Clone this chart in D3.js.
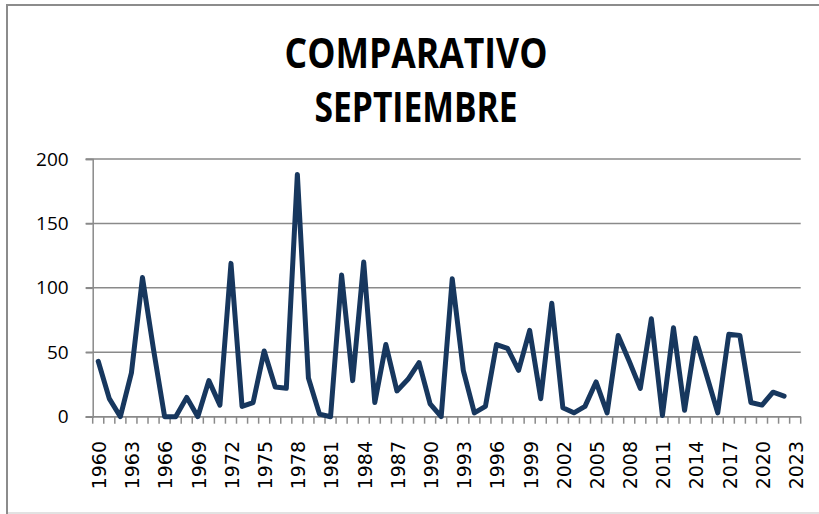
<!DOCTYPE html>
<html>
<head>
<meta charset="utf-8">
<script src="https://cdn.jsdelivr.net/npm/d3@7"></script>
<style>
  html, body { margin: 0; padding: 0; background: #fff; }
  svg { display: block; }
</style>
</head>
<body>
<svg id="chart" width="819" height="514"></svg>
<script>
const titleLines = ["COMPARATIVO", "SEPTIEMBRE"];
const years = [
  1960,1961,1962,1963,1964,1965,1966,1967,1968,1969,
  1970,1971,1972,1973,1974,1975,1976,1977,1978,1979,
  1980,1981,1982,1983,1984,1985,1986,1987,1988,1989,
  1990,1991,1992,1993,1994,1995,1996,1997,1998,1999,
  2000,2001,2002,2003,2004,2005,2006,2007,2008,2009,
  2010,2011,2012,2013,2014,2015,2016,2017,2018,2019,
  2020,2021,2022,2023
];
const values = [
  43,14,0,34,108,52,0,0,15,0,
  28,9,119,8,11,51,23,22,188,30,
  2,0,110,28,120,11,56,20,29,42,
  10,0,107,36,3,8,56,53,36,67,
  14,88,7,3,8,27,3,63,43,22,
  76,1,69,5,61,32,3,64,63,11,
  9,19,16,null
];
const yTicks = [0, 50, 100, 150, 200];
const xLabelYears = years.filter((yr, i) => i % 3 === 0);

const svg = d3.select("#chart");
const plotLeft = 92.7, plotRight = 800.7, plotTop = 159, plotBottom = 416.7;
const gridColor = "#8a8a8a";

// frame
svg.append("line").attr("x1", 7).attr("x2", 7).attr("y1", 4).attr("y2", 514)
  .attr("stroke", "#8c8c8c").attr("stroke-width", 2);
svg.append("line").attr("x1", 6).attr("x2", 819).attr("y1", 5).attr("y2", 5)
  .attr("stroke", "#8c8c8c").attr("stroke-width", 2);
svg.append("line").attr("x1", 8).attr("x2", 819).attr("y1", 513).attr("y2", 513)
  .attr("stroke", "#d9d9d9").attr("stroke-width", 1.5);

// title
const titleBaselines = [67.5, 121.5];
const titleWidths = [263, 203];
svg.selectAll("text.title").data(titleLines).join("text")
  .attr("class", "title")
  .attr("x", 416).attr("y", (d, i) => titleBaselines[i])
  .attr("text-anchor", "middle")
  .attr("font-family", "'Open Sans', 'Liberation Sans', sans-serif")
  .attr("font-weight", "bold")
  .attr("font-size", 41)
  .attr("textLength", (d, i) => titleWidths[i])
  .attr("lengthAdjust", "spacingAndGlyphs")
  .attr("fill", "#000")
  .text(d => d);

const x = d3.scaleBand().domain(years).range([plotLeft, plotRight]).padding(0);
const y = d3.scaleLinear().domain([0, 200]).range([plotBottom, plotTop]);

// gridlines
svg.append("g").selectAll("line").data(yTicks).join("line")
  .attr("x1", plotLeft - 7).attr("x2", plotRight)
  .attr("y1", d => y(d)).attr("y2", d => y(d))
  .attr("stroke", gridColor).attr("stroke-width", 1.5);

// y axis
const yAxis = d3.axisLeft(y).tickValues(yTicks).tickSize(7).tickPadding(17);
const gy = svg.append("g").attr("transform", `translate(${plotLeft},0)`).call(yAxis);
gy.select(".domain").attr("stroke", gridColor).attr("stroke-width", 1.5);
gy.selectAll(".tick line").attr("stroke", gridColor).attr("stroke-width", 1.5);
gy.selectAll(".tick text")
  .attr("font-family", "'Open Sans', 'Liberation Sans', sans-serif")
  .attr("font-size", 19).attr("fill", "#000");

// x axis: ticks at category boundaries
const boundaries = years.map(d => x(d)).concat([plotRight]);
svg.append("g").selectAll("line").data(boundaries).join("line")
  .attr("x1", d => d).attr("x2", d => d)
  .attr("y1", plotBottom).attr("y2", plotBottom + 7)
  .attr("stroke", gridColor).attr("stroke-width", 1.5);
svg.append("line").attr("x1", plotLeft).attr("x2", plotRight)
  .attr("y1", plotBottom).attr("y2", plotBottom)
  .attr("stroke", gridColor).attr("stroke-width", 1.5);

svg.append("g").selectAll("text").data(xLabelYears).join("text")
  .attr("transform", d => `translate(${x(d) + x.bandwidth() / 2 + 1},441) rotate(-90)`)
  .attr("text-anchor", "end")
  .attr("dy", "0.36em")
  .attr("font-family", "'DejaVu Sans', sans-serif")
  .attr("font-size", 19)
  .attr("fill", "#000")
  .text(d => d);

// line
const pts = years.map((d, i) => ({ year: d, v: values[i] }));
const line = d3.line()
  .defined(d => d.v !== null)
  .x(d => x(d.year) + x.bandwidth() / 2)
  .y(d => y(d.v));
svg.append("path").datum(pts)
  .attr("d", line)
  .attr("fill", "none")
  .attr("stroke", "#17375E")
  .attr("stroke-width", 5)
  .attr("stroke-linejoin", "round")
  .attr("stroke-linecap", "round");
</script>
</body>
</html>
